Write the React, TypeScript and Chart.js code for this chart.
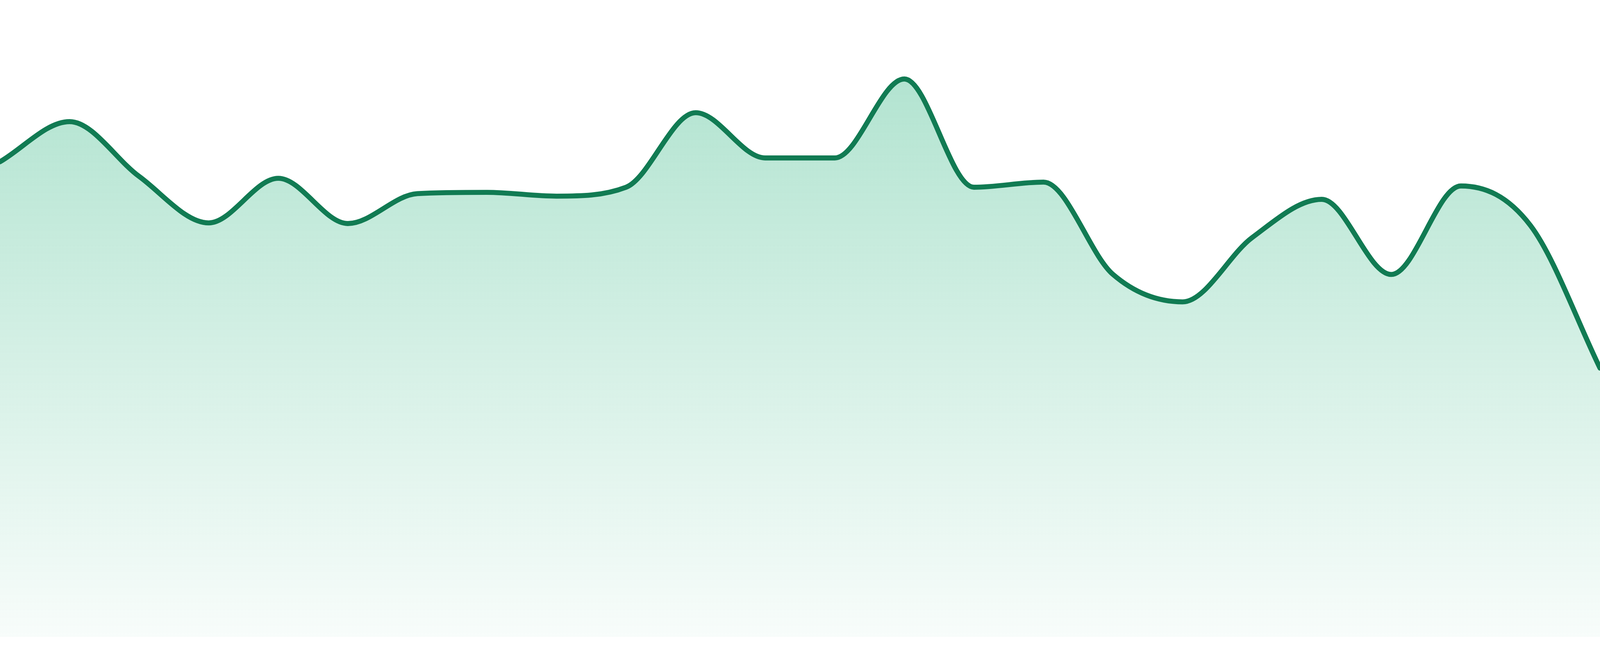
import React, { useEffect, useRef } from 'react';
import Chart from 'chart.js/auto';

const hours = [
  '00:00', '01:00', '02:00', '03:00', '04:00', '05:00', '06:00', '07:00',
  '08:00', '09:00', '10:00', '11:00', '12:00', '13:00', '14:00', '15:00',
  '16:00', '17:00', '18:00', '19:00', '20:00', '21:00', '22:00', '23:00',
];

const activity = [
  74.6, 80.9, 72.3, 65.0, 72.0, 64.9, 69.6, 69.8,
  69.2, 70.6, 82.3, 75.2, 75.2, 87.6, 70.6, 71.4,
  56.9, 52.6, 62.7, 68.7, 56.9, 70.8, 64.6, 42.2,
];

const yMin = 0;
const yMax = 100;

const AreaChart: React.FC = () => {
  const chartRef = useRef<HTMLCanvasElement>(null);

  useEffect(() => {
    document.body.style.margin = '0';
    document.body.style.overflow = 'hidden';
    if (!chartRef.current) return;

    // the reference was drawn for a 4800x1680 picture; keep widths relative to the box
    const box = chartRef.current.parentElement as HTMLElement;
    const k = box.clientWidth / 4800;
    const kh = box.clientHeight / 1680;

    const chart = new Chart(chartRef.current, {
      type: 'line',
      data: {
        labels: hours,
        datasets: [
          {
            data: activity,
            borderColor: '#117b53',
            borderWidth: 15 * k,
            borderCapStyle: 'round',
            borderJoinStyle: 'round',
            pointRadius: 0,
            pointHoverRadius: 0,
            cubicInterpolationMode: 'monotone',
            fill: 'start',
            backgroundColor: (ctx) => {
              const area = ctx.chart.chartArea;
              if (!area) return 'rgba(16,170,110,0.2)';
              const g = ctx.chart.ctx.createLinearGradient(0, area.top, 0, area.bottom);
              g.addColorStop(0, 'rgba(16,170,110,0.36)');
              g.addColorStop(1, 'rgba(16,170,110,0.03)');
              return g;
            },
          },
        ],
      },
      options: {
        animation: false,
        responsive: true,
        maintainAspectRatio: false,
        layout: { padding: { top: 0, left: 0, right: 0, bottom: 49 * kh } },
        plugins: {
          legend: { display: false },
          tooltip: { enabled: false },
        },
        scales: {
          x: { display: false, offset: false },
          y: { display: false, min: yMin, max: yMax },
        },
      },
    });

    return () => {
      chart.destroy();
    };
  }, []);

  return (
    <div style={{ width: '100vw', height: '100vh', position: 'relative', overflow: 'hidden' }}>
      <canvas ref={chartRef} />
    </div>
  );
};

export default function App() {
  return <AreaChart />;
}
